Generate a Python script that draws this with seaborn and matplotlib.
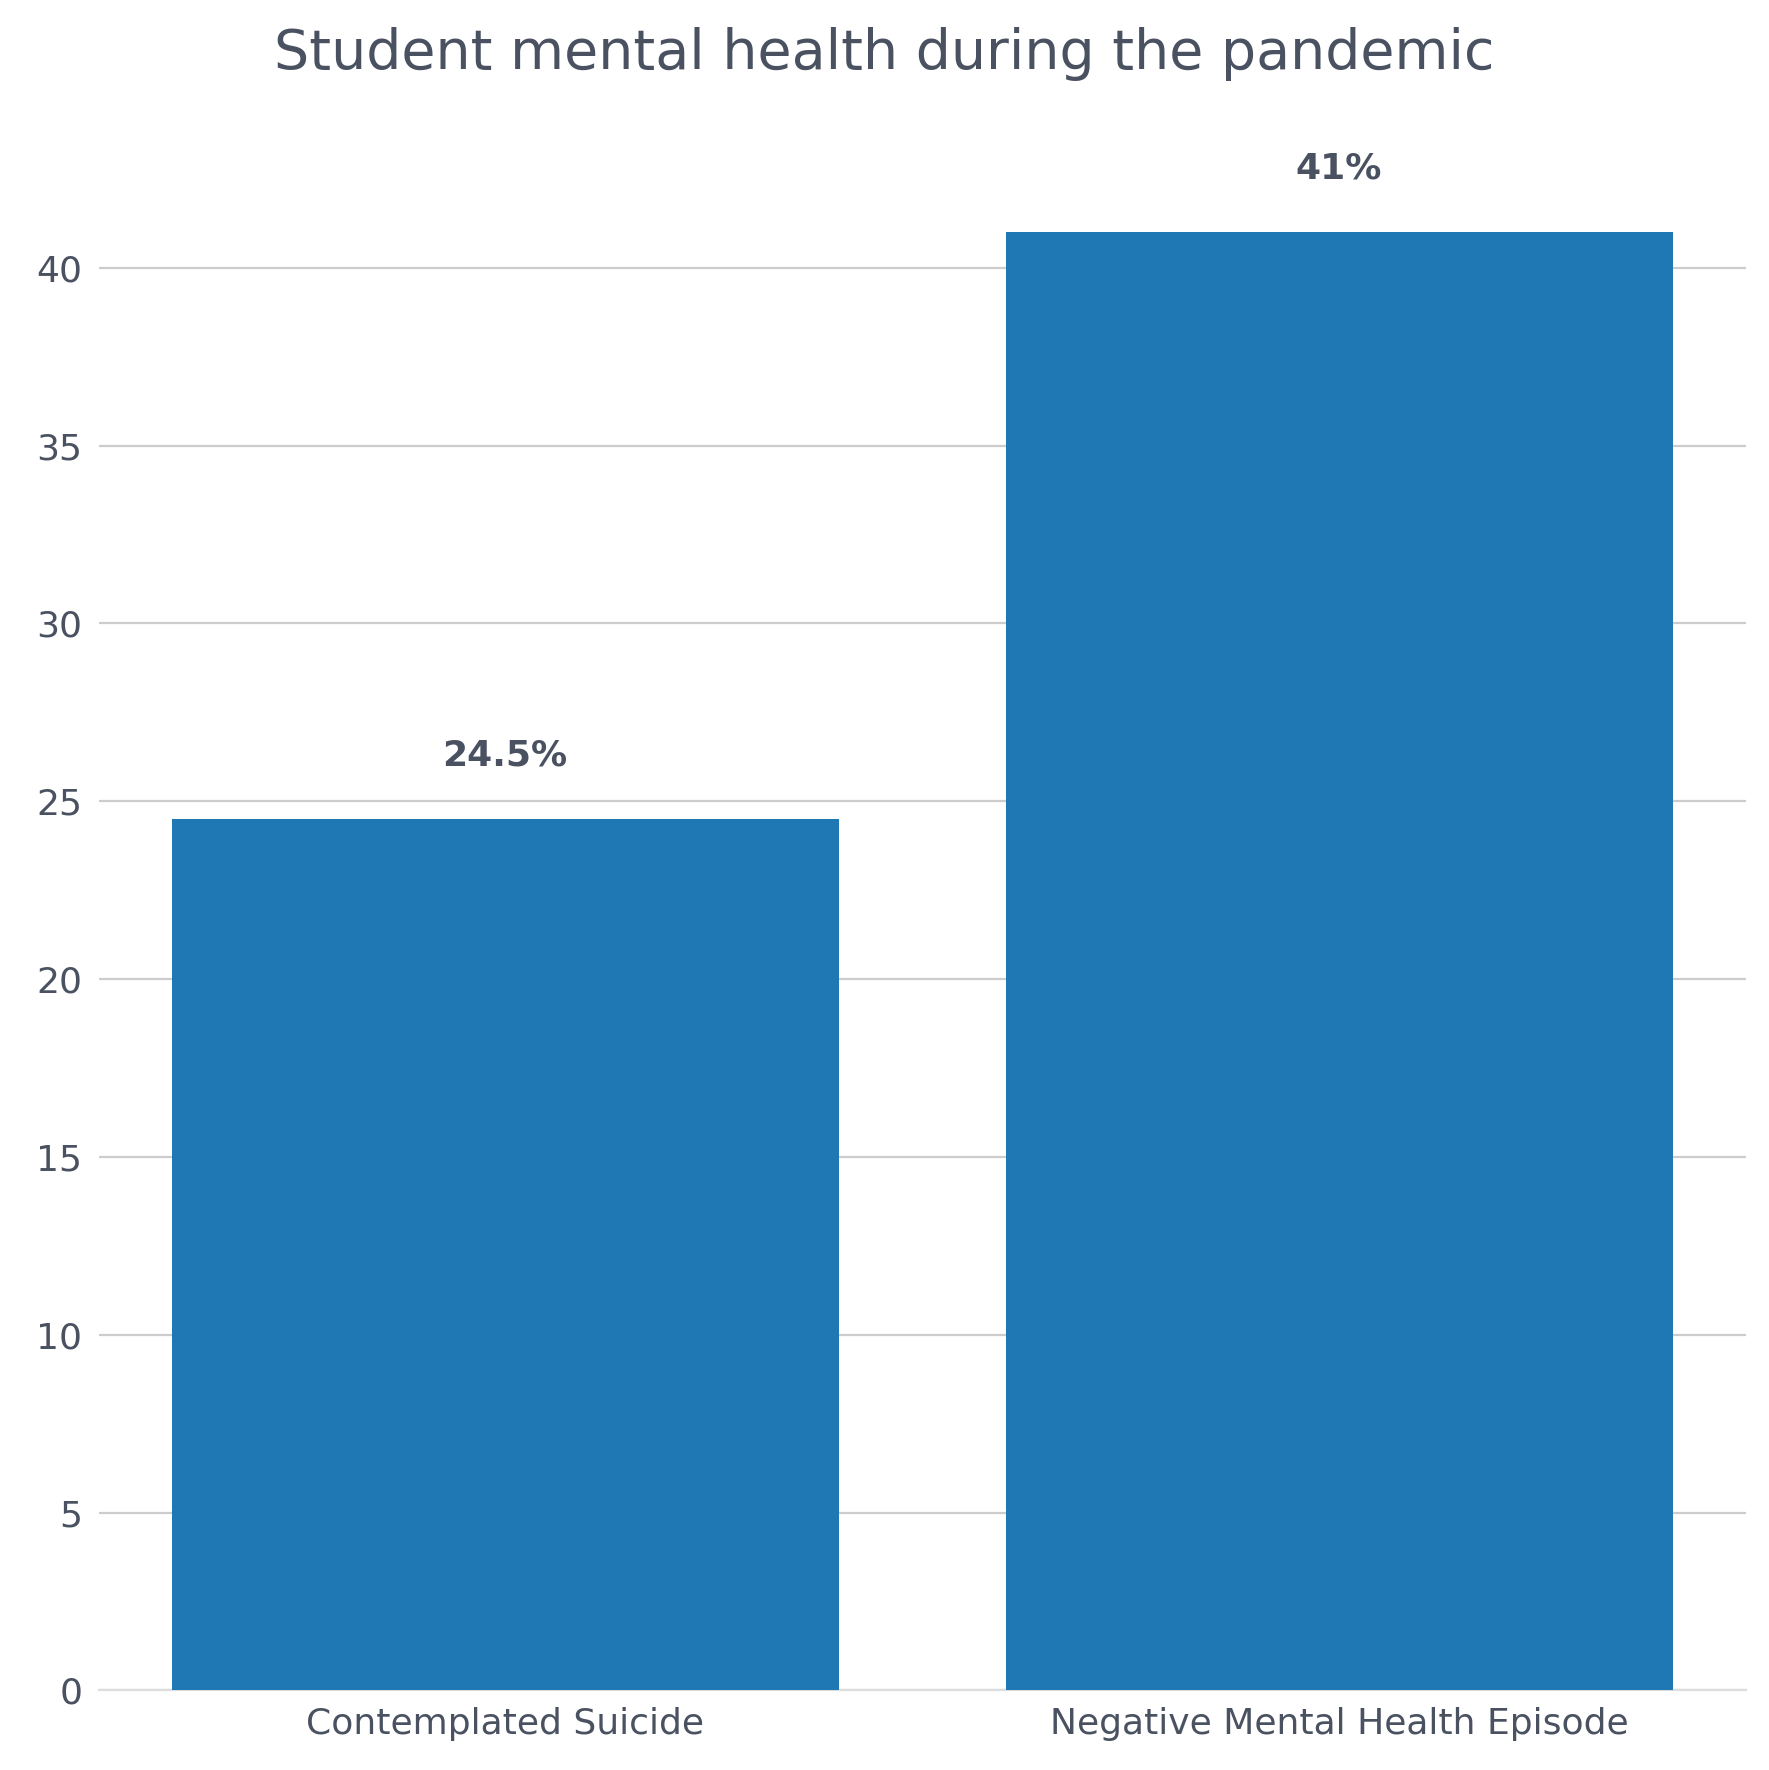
import matplotlib
matplotlib.use("Agg")
import matplotlib.pyplot as plt
import seaborn as sns
import pandas as pd

categories = ["Contemplated Suicide", "Negative Mental Health Episode"]
values = [24.5, 41]
labels = ["24.5%", "41%"]

df = pd.DataFrame({"cat": categories, "val": values})
txt = "#4a5261"

fig = plt.figure(figsize=(8.845, 8.85), dpi=200)
ax = fig.add_axes([0.056, 0.045, 0.931, 0.865])
sns.barplot(data=df, x="cat", y="val", color="#1f77b4", saturation=1, width=0.8, ax=ax, zorder=3)
ax.set_ylim(0, 43.05)
ax.set_xlim(-0.487, 1.488)
ax.set_yticks(range(0, 45, 5))
ax.yaxis.grid(True, color="#cccccc", linewidth=0.8, zorder=0)
ax.set_axisbelow(True)
for s in ["top", "right", "left"]:
    ax.spines[s].set_visible(False)
ax.spines["bottom"].set_color("#dddddd")
ax.tick_params(axis="both", length=0, labelsize=13, colors=txt, pad=6)
ax.set_xlabel("")
ax.set_ylabel("")
for i, (v, l) in enumerate(zip(values, labels)):
    ax.text(i, v + 1.3, l, ha="center", va="bottom", fontsize=13, fontweight="bold", color=txt)
fig.suptitle("Student mental health during the pandemic", fontsize=20, color=txt, y=0.985)
fig.savefig("out.png", dpi=200, facecolor="white")
